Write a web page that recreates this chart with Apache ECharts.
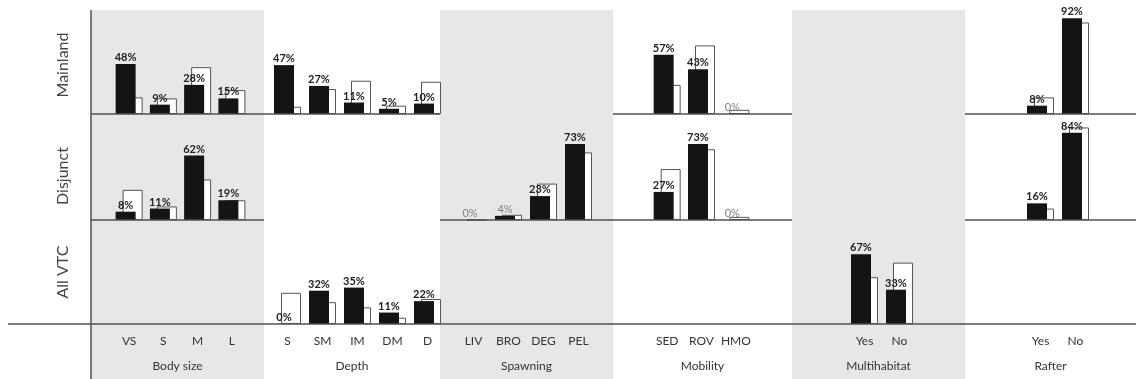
<!DOCTYPE html>
<html>
<head>
<meta charset="utf-8">
<script src="https://cdn.jsdelivr.net/npm/echarts@6/dist/echarts.min.js"></script>
<style>
  html, body { margin: 0; padding: 0; background: #fff; }
  #chart { width: 1136px; height: 379px; }
</style>
</head>
<body>
<div id="chart"></div>
<script>
// Row and trait-group names
const rowNames = ['Mainland', 'Disjunct', 'All VTC'];
const groupNames = ['Body size', 'Depth', 'Spawning', 'Mobility', 'Multihabitat', 'Rafter'];

// Category labels of each trait group
const bodySizeCats = ['VS', 'S', 'M', 'L'];
const depthCats = ['S', 'SM', 'IM', 'DM', 'D'];
const spawningCats = ['LIV', 'BRO', 'DEG', 'PEL'];
const mobilityCats = ['SED', 'ROV', 'HMO'];
const multihabitatCats = ['Yes', 'No'];
const rafterCats = ['Yes', 'No'];

// Percentages: labelled (filled) bars and the outlined comparison bars
const mainlandBodySize = [48, 9, 28, 15];
const mainlandBodySizeExp = [16, 15, 45, 23];
const mainlandDepth = [47, 27, 11, 5, 10];
const mainlandDepthExp = [7, 24, 32, 8, 31];
const mainlandMobility = [57, 43, 0];
const mainlandMobilityExp = [28, 66, 4];
const mainlandRafter = [8, 92];
const mainlandRafterExp = [16, 88];

const disjunctBodySize = [8, 11, 62, 19];
const disjunctBodySizeExp = [29, 13, 39, 19];
const disjunctSpawning = [0, 4, 23, 73];
const disjunctSpawningExp = [0, 5, 35, 65];
const disjunctMobility = [27, 73, 0];
const disjunctMobilityExp = [49, 68, 3];
const disjunctRafter = [16, 84];
const disjunctRafterExp = [11, 89];

const allVtcDepth = [0, 32, 35, 11, 22];
const allVtcDepthExp = [30, 21, 16, 6, 24];
const allVtcMultihabitat = [67, 33];
const allVtcMultihabitatExp = [45, 59];

const catsByGroup = [bodySizeCats, depthCats, spawningCats, mobilityCats, multihabitatCats, rafterCats];

// Which panels hold bars: [row, group, filled values, outlined values]
const panels = [
  [0, 0, mainlandBodySize, mainlandBodySizeExp],
  [0, 1, mainlandDepth, mainlandDepthExp],
  [0, 3, mainlandMobility, mainlandMobilityExp],
  [0, 5, mainlandRafter, mainlandRafterExp],
  [1, 0, disjunctBodySize, disjunctBodySizeExp],
  [1, 2, disjunctSpawning, disjunctSpawningExp],
  [1, 3, disjunctMobility, disjunctMobilityExp],
  [1, 5, disjunctRafter, disjunctRafterExp],
  [2, 1, allVtcDepth, allVtcDepthExp],
  [2, 4, allVtcMultihabitat, allVtcMultihabitatExp]
];

// Layout (pixels)
const colEdges = [91, 264, 440, 613, 792, 965, 1136];
const bandLeft = [112, 270, 456, 650, 847, 1023];
const bandWidth = [137, 175, 140, 103, 70, 70];
const baselines = [114, 220, 324];
const plotHeight = 104;
const topEdge = 10;
const rowLabelY = [65, 176, 272];
const FONT = 'Lato, "Open Sans", sans-serif';
const LINE = '#505050';
const SHADE = '#e6e7e9';

const grids = [], xAxes = [], yAxes = [], series = [];

for (let r = 0; r < 3; r++) {
  for (let c = 0; c < 6; c++) {
    const p = panels.find(q => q[0] === r && q[1] === c);
    if (!p && r !== 2) continue;
    const gi = grids.length;
    grids.push({
      left: bandLeft[c], width: bandWidth[c],
      top: baselines[r] - plotHeight, height: plotHeight
    });
    xAxes.push({
      type: 'category', gridIndex: gi, data: catsByGroup[c],
      axisLine: { show: false }, axisTick: { show: false },
      axisLabel: {
        show: r === 2, interval: 0, margin: 11, fontSize: 12, color: '#333', fontFamily: FONT
      }
    });
    yAxes.push({ type: 'value', gridIndex: gi, min: 0, max: 100, show: false });
    if (p) {
      const filled = p[2], outlined = p[3];
      series.push({
        type: 'bar', xAxisIndex: gi, yAxisIndex: gi, z: 3,
        barWidth: 20, barGap: '-65%',
        itemStyle: { color: '#141414' },
        // near-empty categories get a faint label
        data: filled.map((v, i) => ({
          value: v,
          label: (v <= 5 && outlined[i] <= 5) ? { color: '#808080', fontWeight: 'normal' } : {}
        })),
        label: {
          show: true, position: 'top', distance: 1,
          formatter: '{c}%', fontSize: 11, fontWeight: 'bold',
          color: '#222', fontFamily: FONT
        },
        animation: false
      });
      series.push({
        type: 'bar', xAxisIndex: gi, yAxisIndex: gi, z: 2,
        barWidth: 20, barGap: '-65%',
        itemStyle: { color: '#fff', borderColor: '#555', borderWidth: 1 },
        data: outlined,
        animation: false
      });
    }
  }
}

// Shaded columns, frame lines and text
const graphic = [];
for (let c = 0; c < 6; c += 2) {
  graphic.push({
    type: 'rect', z: -10, silent: true,
    shape: { x: colEdges[c], y: topEdge, width: colEdges[c + 1] - colEdges[c], height: 379 - topEdge },
    style: { fill: SHADE }
  });
}
const hLine = (x1, x2, y) => ({
  type: 'line', z: 10, silent: true,
  shape: { x1, y1: y, x2, y2: y },
  style: { stroke: LINE, lineWidth: 1.5 }
});
// baselines of the upper two rows, one segment per run of filled panels
for (let r = 0; r < 2; r++) {
  let start = null;
  for (let c = 0; c <= 6; c++) {
    const has = c < 6 && panels.some(q => q[0] === r && q[1] === c);
    if (has && start === null) start = c;
    if (!has && start !== null) {
      graphic.push(hLine(colEdges[start], colEdges[c], baselines[r]));
      start = null;
    }
  }
}
graphic.push(hLine(8, 1136, baselines[2]));
graphic.push({
  type: 'line', z: 10, silent: true,
  shape: { x1: colEdges[0], y1: topEdge, x2: colEdges[0], y2: 379 },
  style: { stroke: LINE, lineWidth: 1.5 }
});
rowNames.forEach((name, r) => {
  graphic.push({
    type: 'text', x: 63, y: rowLabelY[r], rotation: Math.PI / 2, silent: true,
    style: { text: name, align: 'center', verticalAlign: 'middle', fill: '#444', font: '16px ' + FONT }
  });
});
groupNames.forEach((name, c) => {
  graphic.push({
    type: 'text', x: (colEdges[c] + colEdges[c + 1]) / 2, y: 366, silent: true,
    style: { text: name, align: 'center', verticalAlign: 'middle', fill: '#333', font: '12px ' + FONT }
  });
});

const chart = echarts.init(document.getElementById('chart'), null, { renderer: 'canvas' });
chart.setOption({
  animation: false,
  backgroundColor: '#fff',
  grid: grids,
  xAxis: xAxes,
  yAxis: yAxes,
  series: series,
  graphic: graphic
});
</script>
</body>
</html>
